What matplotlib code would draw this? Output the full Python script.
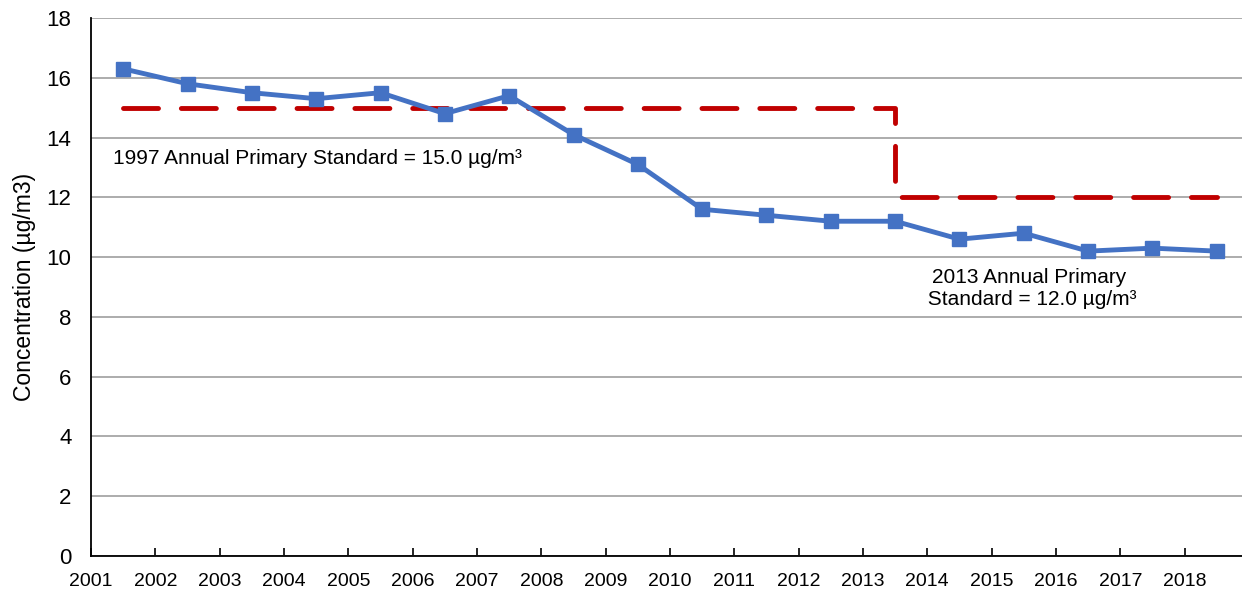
import numpy as np
import matplotlib
matplotlib.use('Agg')
import matplotlib.pyplot as plt

plt.rcParams['font.family'] = ['Liberation Sans', 'DejaVu Sans']

# annual average PM2.5 concentration, plotted mid-year
years = list(range(2001, 2019))
conc = [16.3, 15.8, 15.5, 15.3, 15.5, 14.8, 15.4, 14.1, 13.1, 11.6,
        11.4, 11.2, 11.2, 10.6, 10.8, 10.2, 10.3, 10.2]

# annual primary standard (step from 15.0 to 12.0)
std_x = [2001.5, 2013.5, 2013.5, 2018.5]
std_y = [15.0, 15.0, 12.0, 12.0]

yticks = list(range(0, 19, 2))

fig = plt.figure(figsize=(12.42, 5.94), dpi=100)
ax = fig.add_axes([0.0733, 0.064, 0.9323, 0.9057])

x = np.array(years) + 0.5
ax.plot(std_x, std_y, color='#C00000', lw=3.5, dashes=(7.2, 4.7), zorder=2,
        solid_capstyle='round', dash_capstyle='round')
ax.plot(x, conc, color='#4472C4', lw=3.5, marker='s', ms=10.5, zorder=3)

ax.set_xlim(2001, 2019)
ax.set_ylim(0, 18)
ax.set_xticks(years)
ax.set_xticklabels([str(y) for y in years], fontsize=14)
ax.set_yticks(yticks)
ax.set_yticklabels([str(v) for v in yticks], fontsize=16)
ax.tick_params(axis='x', direction='in', length=6, width=1.2, pad=12)
ax.tick_params(axis='y', length=0, pad=14)

ax.grid(axis='y', color='#A6A6A6', lw=1.3)
ax.set_axisbelow(True)
for s in ['top', 'right']:
    ax.spines[s].set_visible(False)
ax.spines['left'].set_linewidth(1.3)
ax.spines['bottom'].set_linewidth(1.3)

ax.set_ylabel('Concentration (µg/m3)', fontsize=16.5, labelpad=8)

ax.text(2001.34, 13.3, '1997 Annual Primary Standard = 15.0 µg/m³',
        fontsize=15, va='center', ha='left')
ax.text(2015.58, 8.96, '2013 Annual Primary\n Standard = 12.0 µg/m³',
        fontsize=15, va='center', ha='center', multialignment='center',
        linespacing=1.2)

fig.savefig('out.png', dpi=100)
